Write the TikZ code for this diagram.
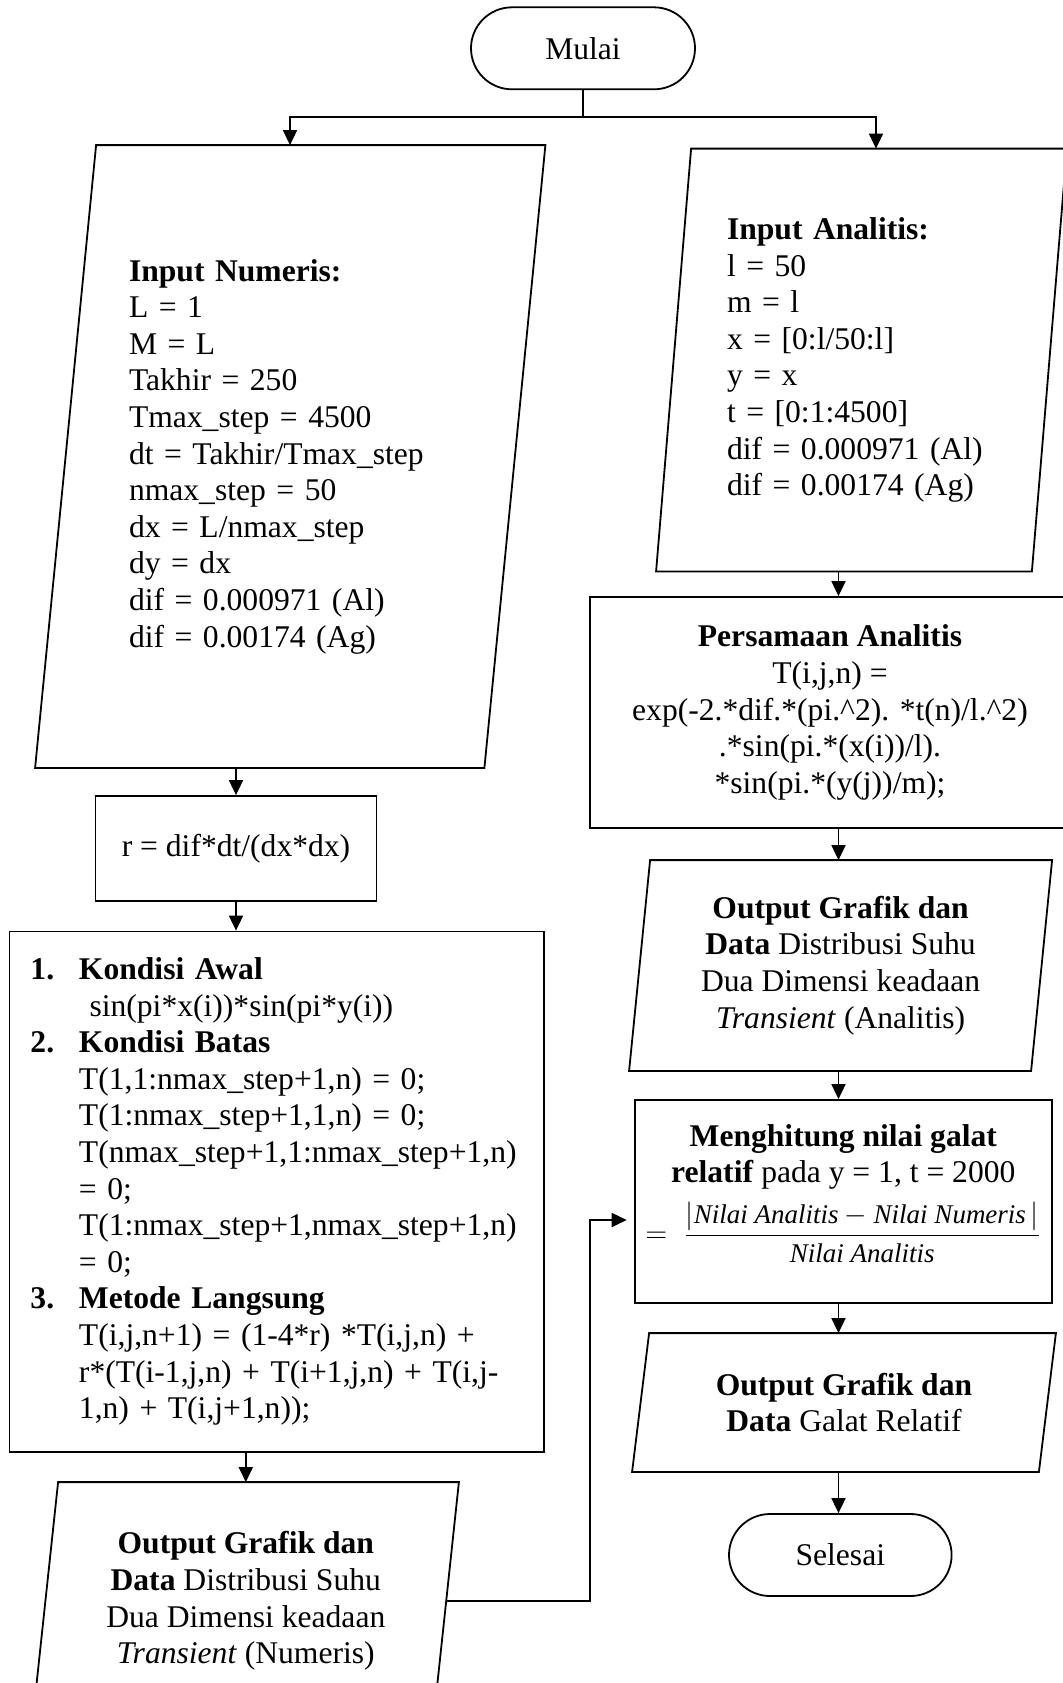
\documentclass[tikz,border=0pt]{standalone}
\usepackage{amsmath}
\usepackage{fontspec}
\setmainfont{Liberation Serif}
\usetikzlibrary{arrows.meta,shapes.misc,calc}
\newcommand{\ioframe}[2]{%
  \draw ($(#1.south west)+(-#2,0)$) -- ($(#1.north west)+(#2,0)$) -- ($(#1.north east)+(#2,0)$) -- ($(#1.south east)+(-#2,0)$) -- cycle;}

\begin{document}
\begin{tikzpicture}[
      x=0.5pt, y=-0.5pt,
      >={Triangle[length=7.5pt,width=7pt]},
      line width=0.9pt,
      font=\fontsize{15.8pt}{18.3pt}\selectfont,
      terminal/.style={draw, rounded rectangle, minimum width=112pt, minimum height=41pt, inner sep=0pt},
      process/.style={draw, align=center, inner sep=0pt},
      inout/.style={align=center, inner sep=0pt}
    ]
    \useasboundingbox (0,0) rectangle (1062,1683);

    \node[terminal] (mulai) at (583,48.3) {Mulai};
    \node[inout, minimum width=223.75pt, minimum height=310.5pt, text width=161.25pt, align=left] (numin) at (290.25,456.5)
      {\textbf{Input Numeris:}\\L = 1\\M = L\\Takhir = 250\\Tmax\_step = 4500\\dt = Takhir/Tmax\_step\\nmax\_step = 50\\dx = L/nmax\_step\\dy = dx\\dif = 0.000971 (Al)\\dif = 0.00174 (Ag)};
    \node[inout, minimum width=187pt, minimum height=210.5pt, text width=134.5pt, align=left] (anain) at (861.5,360)
      {\textbf{Input Analitis:}\\l = 50\\m = l\\x = [0:l/50:l]\\y = x\\t = [0:1:4500]\\dif = 0.000971 (Al)\\dif = 0.00174 (Ag)};
    \node[process, minimum width=240pt, minimum height=115.5pt] (persamaan) at (830,712.5)
      {\textbf{Persamaan Analitis}\\T(i,j,n) =\\exp(-2.*dif.*(pi.\textasciicircum2). *t(n)/l.\textasciicircum2)\\.*sin(pi.*(x(i))/l).\\*sin(pi.*(y(j))/m);};
    \node[process, minimum width=140.5pt, minimum height=52.5pt] (rbox) at (236,848.5) {r = dif*dt/(dx*dx)};
    \node[process, minimum width=267.25pt, minimum height=260.25pt, text width=246.25pt, align=left] (kondisi) at (276.75,1191.75)
      {\begin{tabular}{@{}p{24.25pt}@{}l@{}}
        \textbf{1.} & \textbf{Kondisi Awal}\\
         & \ sin(pi*x(i))*sin(pi*y(i))\\
        \textbf{2.} & \textbf{Kondisi Batas}\\
         & T(1,1:nmax\_step+1,n) = 0;\\
         & T(1:nmax\_step+1,1,n) = 0;\\
         & T(nmax\_step+1,1:nmax\_step+1,n)\\
         & = 0;\\
         & T(1:nmax\_step+1,nmax\_step+1,n)\\
         & = 0;\\
        \textbf{3.} & \textbf{Metode Langsung}\\
         & T(i,j,n+1) = (1-4*r) *T(i,j,n) +\\
         & r*(T(i-1,j,n) + T(i+1,j,n) + T(i,j-\\
         & 1,n) + T(i,j+1,n));
      \end{tabular}};
    \node[inout, minimum width=199.5pt, minimum height=118pt] (outnum) at (245.8,1601)
      {\textbf{Output Grafik dan}\\\textbf{Data} Distribusi Suhu\\Dua Dimensi keadaan\\\textit{Transient} (Numeris)};
    \node[inout, minimum width=200.1pt, minimum height=104.5pt] (outana) at (840.6,965.5)
      {\textbf{Output Grafik dan}\\\textbf{Data} Distribusi Suhu\\Dua Dimensi keadaan\\\textit{Transient} (Analitis)};
    \node[process, minimum width=208.7pt, minimum height=101.5pt] (galat) at (843.3,1201.5)
      {\textbf{Menghitung nilai galat}\\\textbf{relatif} pada y = 1, t = 2000\\[5pt]{\fontsize{13.5pt}{16pt}\selectfont\(=\;\dfrac{|\textit{Nilai Analitis} - \textit{Nilai Numeris}\,|}{\textit{Nilai Analitis}}\)}\rule[-18pt]{0pt}{18pt}};
    \node[inout, minimum width=202.5pt, minimum height=68.5pt] (outgal) at (844,1402.5)
      {\textbf{Output Grafik dan}\\\textbf{Data} Galat Relatif};
    \node[terminal, minimum width=111.3pt] (selesai) at (840.3,1555) {Selesai};

    \ioframe{numin}{30.5}
    \ioframe{anain}{17.5}
    \ioframe{outnum}{12.7}
    \ioframe{outana}{10.5}
    \ioframe{outgal}{8.5}

    \coordinate (splitl) at (290,116.7);
    \coordinate (splitr) at (876,116.7);
    \coordinate (rcol) at (838.5,0);
    \coordinate (bend) at (590,1220);

    \draw (mulai.south) -- (mulai.south |- splitl);
    \draw[->] (mulai.south |- splitl) -- (splitl) -- (splitl |- numin.north);
    \draw[->] (mulai.south |- splitr) -- (splitr) -- (splitr |- anain.north);
    \draw[->] (numin.south -| rbox.north) -- (rbox.north);
    \draw[->] (rbox.south) -- (kondisi.north -| rbox.south);
    \draw[->] (kondisi.south -| outnum.north) -- (outnum.north);
    \draw[->] (anain.south -| rcol) -- (persamaan.north -| rcol);
    \draw[->] (persamaan.south -| rcol) -- (outana.north -| rcol);
    \draw[->] (outana.south -| rcol) -- (galat.north -| rcol);
    \draw[->] (galat.south -| rcol) -- (outgal.north -| rcol);
    \draw[->] (outgal.south -| rcol) -- (selesai.north -| rcol);
    \draw[->, shorten >=3.5pt] (outnum.east) -| (bend) -- (bend -| galat.west);
  \end{tikzpicture}
\end{document}
